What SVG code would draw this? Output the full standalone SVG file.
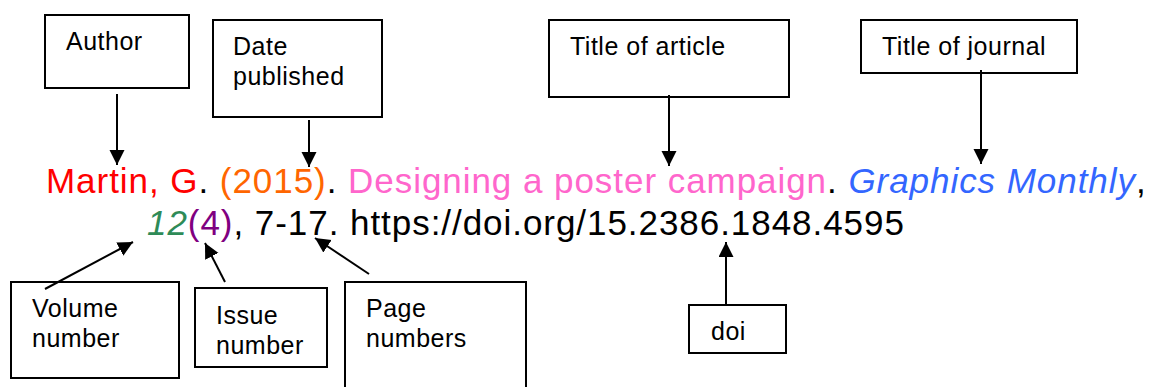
<svg xmlns="http://www.w3.org/2000/svg" width="1155" height="387" viewBox="0 0 1155 387">
<style>
.box{fill:#fff;stroke:#000;stroke-width:2}
.lbl{font-family:"Liberation Sans",Arial,sans-serif;font-size:25px;letter-spacing:0.5px;fill:#000}
.cit{font-family:"Liberation Sans",Arial,sans-serif;font-size:35px;letter-spacing:0.95px;fill:#000}
.con{stroke:#000;stroke-width:2;fill:none;marker-end:url(#ah)}
</style>
<defs>
<marker id="ah" markerUnits="userSpaceOnUse" markerWidth="16" markerHeight="16" refX="15" refY="7.5" orient="auto">
<path d="M0,0 L15,7.5 L0,15 z" fill="#000"/>
</marker>
</defs>
<rect width="1155" height="387" fill="#fff"/>
<g id="citation">
<text class="cit" x="46" y="193"><tspan fill="#FF0000">Martin, G</tspan>. <tspan fill="#FF6600">(2015)</tspan>. <tspan fill="#FF66CC">Designing a poster campaign</tspan>. <tspan fill="#3366FF" font-style="italic">Graphics Monthly</tspan>,</text>
<text class="cit" x="147" y="235"><tspan fill="#2E8B57" font-style="italic">12</tspan><tspan fill="#800080">(4)</tspan>, 7-17. https://doi.org/15.2386.1848.4595</text>
</g>
<g id="author">
<rect class="box" x="45" y="15" width="144" height="73"/>
<text class="lbl" x="66" y="50">Author</text>
</g>
<g id="date">
<rect class="box" x="213" y="20" width="169" height="97"/>
<text class="lbl" x="233" y="55">Date</text>
<text class="lbl" x="233" y="85">published</text>
</g>
<g id="article">
<rect class="box" x="549" y="20" width="240" height="77"/>
<text class="lbl" x="570" y="55">Title of article</text>
</g>
<g id="journal">
<rect class="box" x="861" y="20" width="216" height="53"/>
<text class="lbl" x="882" y="55">Title of journal</text>
</g>
<g id="volume">
<rect class="box" x="11" y="282" width="168" height="96"/>
<text class="lbl" x="32" y="317">Volume</text>
<text class="lbl" x="32" y="347">number</text>
</g>
<g id="issue">
<rect class="box" x="195" y="288" width="132" height="79"/>
<text class="lbl" x="216" y="324">Issue</text>
<text class="lbl" x="216" y="354">number</text>
</g>
<g id="pages">
<rect class="box" x="345" y="282" width="181" height="120"/>
<text class="lbl" x="366" y="317">Page</text>
<text class="lbl" x="366" y="347">numbers</text>
</g>
<g id="doi">
<rect class="box" x="689" y="305" width="97" height="48"/>
<text class="lbl" x="711" y="340">doi</text>
</g>
<g id="connectors">
<line class="con" x1="117" y1="94" x2="117" y2="165"/>
<line class="con" x1="309" y1="120" x2="309" y2="167"/>
<line class="con" x1="669" y1="95" x2="669" y2="166"/>
<line class="con" x1="981" y1="70" x2="981" y2="164"/>
<line class="con" x1="45" y1="289" x2="133" y2="242"/>
<line class="con" x1="225" y1="282" x2="205" y2="243"/>
<line class="con" x1="369" y1="274" x2="315" y2="238"/>
<line class="con" x1="726" y1="305" x2="726" y2="242"/>
</g>
</svg>
